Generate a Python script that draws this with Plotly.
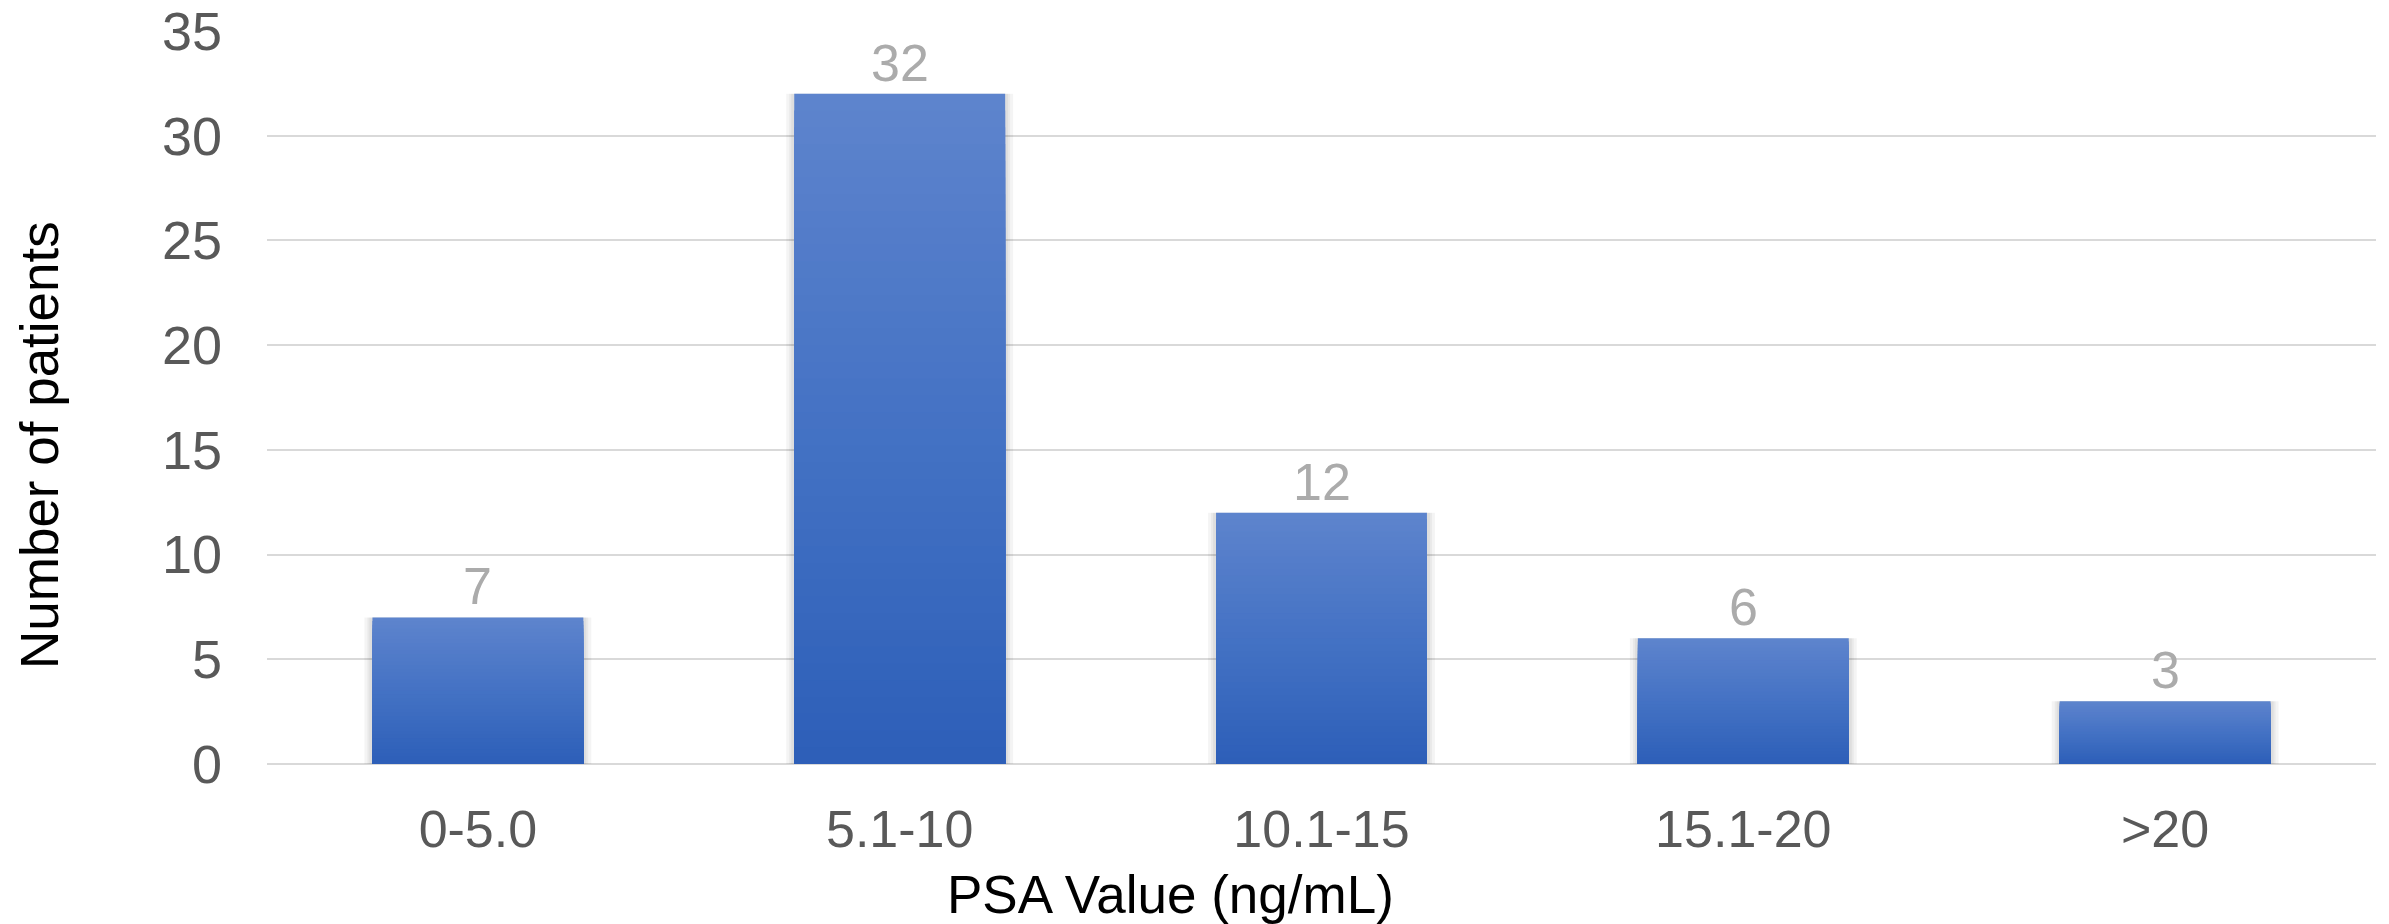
import plotly.graph_objects as go

# ---- data ----
categories = ["0-5.0", "5.1-10", "10.1-15", "15.1-20", ">20"]
patients = [7, 32, 12, 6, 3]
y_ticks = [0, 5, 10, 15, 20, 25, 30, 35]
x_title = "PSA Value (ng/mL)"
y_title = "Number of patients"

# ---- style ----
FONT = "Arial, 'Liberation Sans', sans-serif"
W, H = 2389, 924
L, R, T, B = 267, 13, 31, 160
top_rgb = (94, 132, 205)
mid_rgb = (68, 114, 196)
bot_rgb = (45, 95, 184)
plot_w = W - L - R
plot_h = H - T - B
px_cat = 5.0 / plot_w  # category units per pixel


def grad(f):
    # f: 0 bottom .. 1 top
    if f < 0.5:
        a, b, t = bot_rgb, mid_rgb, f / 0.5
    else:
        a, b, t = mid_rgb, top_rgb, (f - 0.5) / 0.5
    c = [round(a[i] + (b[i] - a[i]) * t) for i in range(3)]
    return f"rgb({c[0]},{c[1]},{c[2]})"


fig = go.Figure()

# soft shadow behind bars
for s in (8, 5, 3):
    fig.add_trace(go.Bar(
        x=categories, y=patients, width=0.5 + 2 * s * px_cat,
        marker=dict(color="rgba(0,0,0,0.045)", line=dict(width=0)),
        showlegend=False, hoverinfo="skip",
    ))

N = 40
for k in range(N, 0, -1):
    fig.add_trace(go.Bar(
        x=categories,
        y=[v * k / N for v in patients],
        width=0.5,
        marker=dict(color=grad((k - 0.5) / N), line=dict(width=0)),
        showlegend=False,
        hoverinfo="skip" if k != N else None,
    ))

annotations = []
for c, v in zip(categories, patients):
    annotations.append(dict(
        x=c, y=v, xref="x", yref="y", text=str(v), showarrow=False,
        yanchor="bottom", yshift=0,
        font=dict(family=FONT, size=52, color="#ABABAB"),
    ))

annotations.append(dict(
    xref="paper", yref="paper",
    x=(1170 - L) / plot_w, y=(H - B - 895) / plot_h,
    xanchor="center", yanchor="middle", text=x_title, showarrow=False,
    font=dict(family=FONT, size=53, color="#000000"),
))
annotations.append(dict(
    xref="paper", yref="paper",
    x=(39.5 - L) / plot_w, y=(H - B - 445.5) / plot_h,
    xanchor="center", yanchor="middle", text=y_title, showarrow=False,
    textangle=-90,
    font=dict(family=FONT, size=53, color="#000000"),
))

fig.update_layout(
    width=W, height=H,
    margin=dict(l=L, r=R, t=T, b=B, pad=0, autoexpand=False),
    paper_bgcolor="white", plot_bgcolor="white",
    barmode="overlay",
    showlegend=False,
    annotations=annotations,
    font=dict(family=FONT),
)
fig.update_xaxes(
    type="category", categoryorder="array", categoryarray=categories,
    range=[-0.5, len(categories) - 0.5],
    showgrid=False, showline=False, zeroline=False, ticks="",
    automargin=False,
    tickfont=dict(family=FONT, size=52, color="#595959"),
    ticklabelstandoff=30,
)
fig.update_yaxes(
    range=[0, 35], tickvals=y_ticks,
    showgrid=True, gridcolor="#D9D9D9", gridwidth=1.5,
    zeroline=True, zerolinecolor="#D9D9D9", zerolinewidth=1.5,
    showline=False, ticks="",
    automargin=False,
    tickfont=dict(family=FONT, size=54, color="#595959"),
    ticklabelstandoff=44,
)

fig.write_html("out.html")
